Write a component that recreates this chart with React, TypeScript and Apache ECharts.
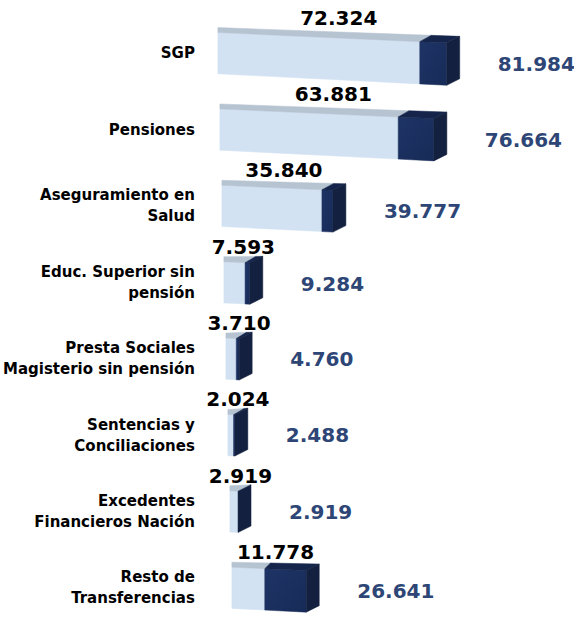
import React, { useEffect, useRef } from "react";
import * as echarts from "echarts";

const categories = [
  "SGP",
  "Pensiones",
  "Aseguramiento en\nSalud",
  "Educ. Superior sin\npensión",
  "Presta Sociales\nMagisterio sin pensión",
  "Sentencias y\nConciliaciones",
  "Excedentes\nFinancieros Nación",
  "Resto de\nTransferencias",
];
const baseValues = [72.324, 63.881, 35.84, 7.593, 3.71, 2.024, 2.919, 11.778];
const totalValues = [81.984, 76.664, 39.777, 9.284, 4.76, 2.488, 2.919, 26.641];

const fmt = (v: number) => v.toFixed(3);
const FONT = "'DejaVu Sans', Verdana, sans-serif";

export default function App() {
  const ref = useRef<HTMLDivElement>(null);
  useEffect(() => {
    if (!ref.current) return;
    const chart = echarts.init(ref.current, undefined, { renderer: "svg" });
    const data = categories.map((_, i) => [i, baseValues[i], totalValues[i]]);
    const renderItem = (params: any, api: any) => {
      const i = api.value(0);
      const v1 = api.value(1);
      const v2 = api.value(2);
      const p0 = api.coord([0, i]);
      const p1 = api.coord([v1, i]);
      const p2 = api.coord([v2, i]);
      const band = api.size([0, 1])[1];
      const h = band * 0.54;
      const shift = i * 2;
      const x0 = p0[0] + shift;
      const x1 = p1[0] + shift;
      const x2 = p2[0] + shift;
      const yc = p0[1];
      const sT = 0.045;
      const sB = 0.05;
      const top = (x: number) => yc - h / 2 + sT * (x - x0);
      const bot = (x: number) => yc + h / 2 + sB * (x - x0);
      const span = Math.max(x2 - x0, 1);
      const back = (x: number, y: number) => {
        const t = (x - x0) / span;
        return [x + 13 * t, y - 5 - 1.5 * t];
      };
      const poly = (pts: number[][], fill: any) => ({
        type: "polygon",
        shape: { points: pts },
        style: { fill, stroke: fill, lineWidth: 0.5 },
      });
      const children: any[] = [];
      children.push(
        poly(
          [
            [x0, top(x0)],
            [x1, top(x1)],
            [x1, bot(x1)],
            [x0, bot(x0)],
          ],
          "#D3E2F2"
        )
      );
      if (x2 > x1) {
        children.push(
          poly(
            [
              [x1, top(x1)],
              [x2, top(x2)],
              [x2, bot(x2)],
              [x1, bot(x1)],
            ],
            new echarts.graphic.LinearGradient(0, 0, 1, 1, [
              { offset: 0, color: "#1E3465" },
              { offset: 1, color: "#172B58" },
            ])
          )
        );
      }
      children.push(
        poly(
          [[x0, top(x0)], [x1, top(x1)], back(x1, top(x1)), back(x0, top(x0))],
          "#B6C3D1"
        )
      );
      if (x2 > x1) {
        children.push(
          poly(
            [[x1, top(x1)], [x2, top(x2)], back(x2, top(x2)), back(x1, top(x1))],
            "#14244A"
          )
        );
      }
      children.push(
        poly(
          [[x2, top(x2)], [x2, bot(x2)], back(x2, bot(x2)), back(x2, top(x2))],
          "#13203F"
        )
      );
      const bx = back(x2, top(x2))[0];
      children.push({
        type: "text",
        style: {
          text: fmt(v1),
          x: (x0 + bx) / 2,
          y: top(x0) - 15,
          align: "center",
          verticalAlign: "middle",
          fill: "#000000",
          font: "bold 20px " + FONT,
        },
      });
      children.push({
        type: "text",
        style: {
          text: fmt(v2),
          x: bx + 38,
          y: (top(x2) + bot(x2)) / 2,
          align: "left",
          verticalAlign: "middle",
          fill: "#2D4676",
          font: "bold 20px " + FONT,
        },
      });
      return { type: "group", children };
    };
    chart.setOption({
      animation: false,
      backgroundColor: "#ffffff",
      grid: { left: 214, top: 15, height: 624, width: 283 },
      xAxis: { type: "value", min: 0, max: 100, show: false },
      yAxis: {
        type: "category",
        data: categories,
        inverse: true,
        axisLine: { show: false },
        axisTick: { show: false },
        splitLine: { show: false },
        axisLabel: {
          margin: 23,
          color: "#000000",
          fontSize: 15,
          fontWeight: "bold",
          fontFamily: FONT,
          lineHeight: 21,
          align: "right",
          padding: [0, 0, 10, 0],
        },
      },
      series: [
        {
          type: "custom",
          renderItem,
          data,
          encode: { x: [1, 2], y: 0 },
          clip: false,
        },
      ],
    });
    return () => chart.dispose();
  }, []);
  return (
    <div
      ref={ref}
      style={{ position: "fixed", left: 0, top: 0, width: 574, height: 626 }}
    />
  );
}
